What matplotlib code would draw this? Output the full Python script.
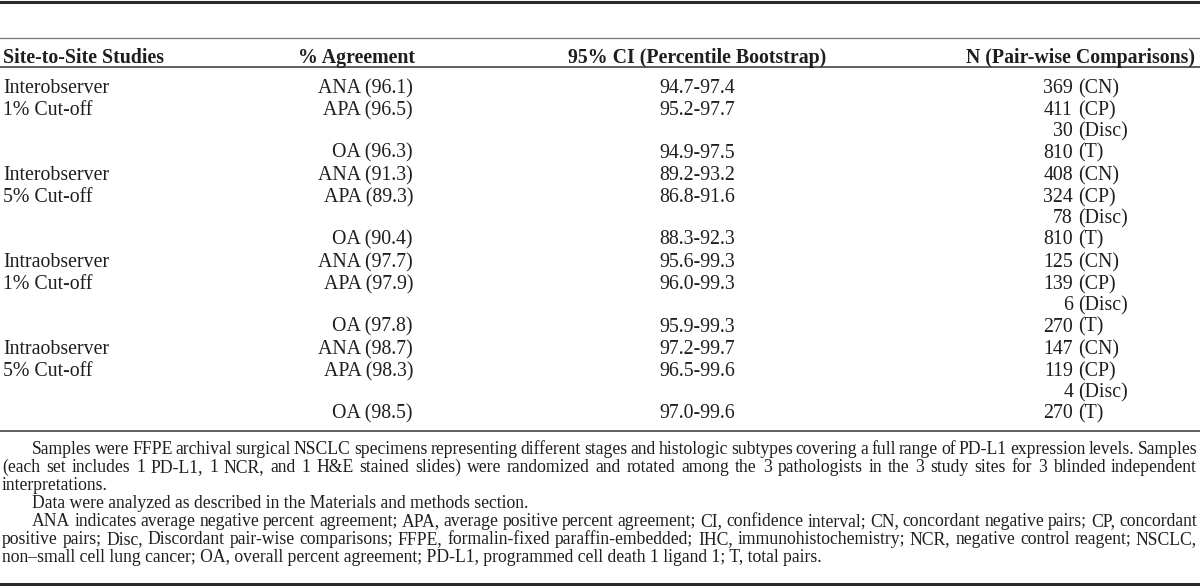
import matplotlib
matplotlib.use('Agg')
import matplotlib.pyplot as plt

plt.rcParams['font.family'] = ['Liberation Serif', 'DejaVu Serif']

# table data
headers = ['Site-to-Site Studies', '% Agreement', '95% CI (Percentile Bootstrap)', 'N (Pair-wise Comparisons)']
studies = ['Interobserver', 'Interobserver', 'Intraobserver', 'Intraobserver']
cutoffs = ['1% Cut-off', '5% Cut-off', '1% Cut-off', '5% Cut-off']

ana = [96.1, 91.3, 97.7, 98.7]
apa = [96.5, 89.3, 97.9, 98.3]
oa = [96.3, 90.4, 97.8, 98.5]

ana_ci = [(94.7, 97.4), (89.2, 93.2), (95.6, 99.3), (97.2, 99.7)]
apa_ci = [(95.2, 97.7), (86.8, 91.6), (96.0, 99.3), (96.5, 99.6)]
oa_ci = [(94.9, 97.5), (88.3, 92.3), (95.9, 99.3), (97.0, 99.6)]

n_cn = [369, 408, 125, 147]
n_cp = [411, 324, 139, 119]
n_disc = [30, 78, 6, 4]
n_t = [810, 810, 270, 270]

notes = [
    ('indent', True, 'Samples were FFPE archival surgical NSCLC specimens representing different stages and histologic subtypes covering a full range of PD-L1 expression levels. Samples'),
    ('', True, '(each set includes 1 PD-L1, 1 NCR, and 1 H&E stained slides) were randomized and rotated among the 3 pathologists in the 3 study sites for 3 blinded independent'),
    ('', False, 'interpretations.'),
    ('indent', False, 'Data were analyzed as described in the Materials and methods section.'),
    ('indent', True, 'ANA indicates average negative percent agreement; APA, average positive percent agreement; CI, confidence interval; CN, concordant negative pairs; CP, concordant'),
    ('', True, 'positive pairs; Disc, Discordant pair-wise comparisons; FFPE, formalin-fixed paraffin-embedded; IHC, immunohistochemistry; NCR, negative control reagent; NSCLC,'),
    ('', False, 'non\u2013small cell lung cancer; OA, overall percent agreement; PD-L1, programmed cell death 1 ligand 1; T, total pairs.'),
]

W, H = 1200, 586
fig = plt.figure(figsize=(W / 100, H / 100), dpi=100)
ax = fig.add_axes([0, 0, 1, 1])
ax.set_xlim(0, W)
ax.set_ylim(H, 0)
ax.axis('off')

ink = '#1e1e1e'
fs = 14.3
fs_note = 12.7

# rules
ax.axhline(1.5, color='#2a2a2a', lw=2.2)
ax.axhline(37.5, color='#777777', lw=0.9)
ax.axhline(67, color='#444444', lw=1.2)
ax.axhline(431, color='#444444', lw=1.2)
ax.axhline(584, color='#2a2a2a', lw=2.2)

# header
x_study, x_agree, x_ci, x_n = 3, 413, 697, 1195
ax.text(x_study, 63, headers[0], fontsize=fs, fontweight='bold', color=ink, ha='left', va='baseline')
ax.text(x_agree + 2, 63, headers[1], fontsize=fs, fontweight='bold', color=ink, ha='right', va='baseline')
ax.text(x_ci, 63, headers[2], fontsize=fs, fontweight='bold', color=ink, ha='center', va='baseline')
ax.text(x_n, 63, headers[3], fontsize=fs, fontweight='bold', color=ink, ha='right', va='baseline')

# body rows
group_y = [93, 180, 267, 354]
offs = [0, 22, 43, 64.5]
x_num = 1073
for i in range(4):
    y0 = group_y[i]
    ax.text(x_study, y0, studies[i], fontsize=fs, color=ink, ha='left', va='baseline')
    ax.text(x_study, y0 + offs[1], cutoffs[i], fontsize=fs, color=ink, ha='left', va='baseline')
    rows = [('ANA', ana[i], ana_ci[i], n_cn[i], '(CN)', offs[0]),
            ('APA', apa[i], apa_ci[i], n_cp[i], '(CP)', offs[1]),
            ('OA', oa[i], oa_ci[i], n_t[i], '(T)', offs[3])]
    for name, val, ci, n, lab, dy in rows:
        y = y0 + dy
        ax.text(x_agree, y, f'{name} ({val:.1f})', fontsize=fs, color=ink, ha='right', va='baseline')
        ax.text(x_ci, y, f'{ci[0]:.1f}-{ci[1]:.1f}', fontsize=fs, color=ink, ha='center', va='baseline')
        ax.text(x_num, y, str(n), fontsize=fs, color=ink, ha='right', va='baseline')
        ax.text(x_num + 5, y, lab, fontsize=fs, color=ink, ha='left', va='baseline')
    ax.text(x_num, y0 + offs[2], str(n_disc[i]), fontsize=fs, color=ink, ha='right', va='baseline')
    ax.text(x_num + 5, y0 + offs[2], '(Disc)', fontsize=fs, color=ink, ha='left', va='baseline')

# footnotes, justified by hand
renderer = fig.canvas.get_renderer()
note_y = 454
left, indent, right = 2, 32, 1197
for k, (ind, just, line) in enumerate(notes):
    y = note_y + k * 18
    x0 = indent if ind else left
    if not just:
        ax.text(x0, y, line, fontsize=fs_note, color=ink, ha='left', va='baseline')
        continue
    words = line.split(' ')
    texts = [ax.text(0, y, w, fontsize=fs_note, color=ink, ha='left', va='baseline') for w in words]
    widths = [t.get_window_extent(renderer).width for t in texts]
    gap = (right - x0 - sum(widths)) / (len(words) - 1)
    x = x0
    for t, w in zip(texts, widths):
        t.set_x(x)
        x += w + gap

fig.savefig('out.png', dpi=100)
